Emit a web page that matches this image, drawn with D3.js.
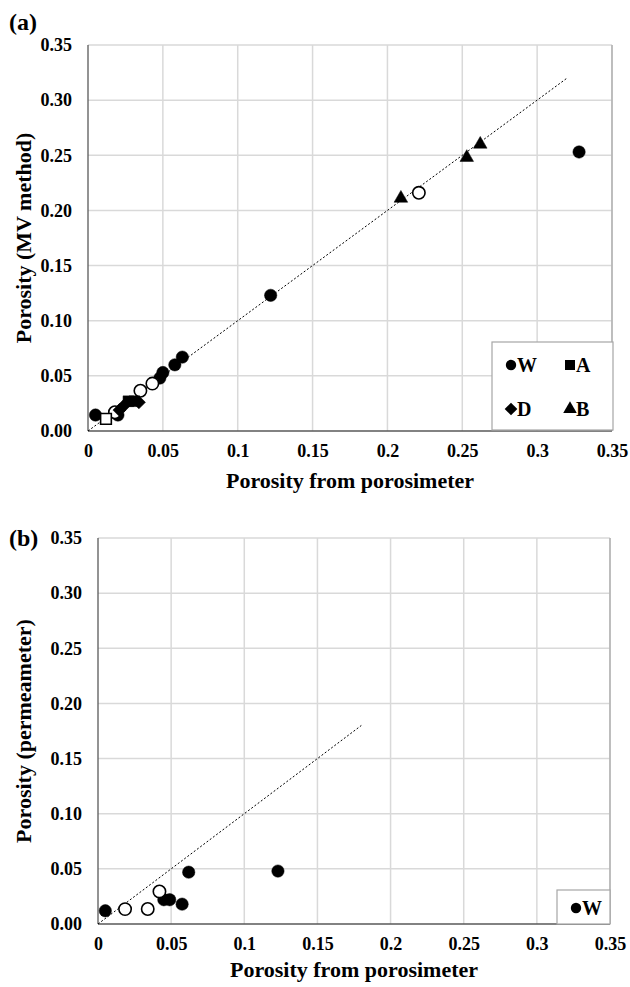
<!DOCTYPE html>
<html>
<head>
<meta charset="utf-8">
<script src="https://cdn.jsdelivr.net/npm/d3@7"></script>
<style>
  body { margin: 0; background: #fff; }
  text { font-family: "Liberation Serif", "Times New Roman", serif; font-weight: bold; fill: #000; }
</style>
</head>
<body>
<div id="chart"></div>
<script>
// ---- data, panel (a): porosimeter vs MV method ----
const aW = [[0.005, 0.0145], [0.020, 0.0145], [0.048, 0.048], [0.050, 0.053], [0.058, 0.060], [0.063, 0.067], [0.122, 0.123], [0.328, 0.253]];
const aWopen = [[0.018, 0.017], [0.035, 0.0365], [0.043, 0.043], [0.221, 0.216]];
const aA = [[0.027, 0.027], [0.031, 0.027]];
const aAopen = [[0.012, 0.011]];
const aD = [[0.021, 0.019], [0.024, 0.023], [0.034, 0.026]];
const aB = [[0.209, 0.211], [0.253, 0.248], [0.262, 0.260]];

// ---- data, panel (b): porosimeter vs permeameter ----
const bW = [[0.005, 0.012], [0.045, 0.022], [0.049, 0.022], [0.0575, 0.018], [0.062, 0.047], [0.123, 0.048]];
const bWopen = [[0.0185, 0.0135], [0.034, 0.0136], [0.042, 0.0295]];

const ticks = [0, 0.05, 0.1, 0.15, 0.2, 0.25, 0.3, 0.35];
const legendA = ["W", "A", "D", "B"];
const legendB = ["W"];

const svg = d3.select("#chart").append("svg")
    .attr("width", 630)
    .attr("height", 987);

const shapes = {
    W: d3.symbol().type(d3.symbolCircle).size(120)(),
    A: d3.symbol().type(d3.symbolSquare).size(115)(),
    D: d3.symbol().type(d3.symbolSquare).size(85)(),
    B: d3.symbol().type(d3.symbolTriangle).size(80)()
};
const legendShapes = {
    W: d3.symbol().type(d3.symbolCircle).size(85)(),
    A: d3.symbol().type(d3.symbolSquare).size(100)(),
    D: d3.symbol().type(d3.symbolSquare).size(80)(),
    B: d3.symbol().type(d3.symbolTriangle).size(80)()
};
const rot = {W: 0, A: 0, D: 45, B: 0};

function drawPanel(p) {
    const x = d3.scaleLinear().domain([0, 0.35]).range([p.left, p.right]);
    const y = d3.scaleLinear().domain([0, 0.35]).range([p.bottom, p.top]);
    const g = svg.append("g");

    // gridlines
    g.selectAll(".vg").data(ticks.slice(1)).enter().append("line")
        .attr("x1", d => x(d)).attr("x2", d => x(d))
        .attr("y1", p.top).attr("y2", p.bottom)
        .attr("stroke", "#d9d9d9").attr("stroke-width", 1.5);
    g.selectAll(".hg").data(ticks.slice(1)).enter().append("line")
        .attr("x1", p.left).attr("x2", p.right)
        .attr("y1", d => y(d)).attr("y2", d => y(d))
        .attr("stroke", "#d9d9d9").attr("stroke-width", 1.5);

    // right side of frame is a bit darker
    g.append("line").attr("x1", x(0.35)).attr("x2", x(0.35)).attr("y1", p.top).attr("y2", p.bottom)
        .attr("stroke", "#a6a6a6").attr("stroke-width", 1.2);

    // axes
    const xAxis = d3.axisBottom(x).tickValues(ticks).tickSize(0).tickPadding(13)
        .tickFormat(d => d === 0 ? "0" : String(+d.toFixed(2)));
    const yAxis = d3.axisLeft(y).tickValues(ticks).tickSize(0).tickPadding(16)
        .tickFormat(d3.format(".2f"));
    g.append("g").attr("transform", `translate(0,${p.bottom})`).call(xAxis)
        .call(a => a.select(".domain").remove())
        .selectAll("text").attr("font-size", 18).attr("font-family", null);
    g.append("g").attr("transform", `translate(${p.left},0)`).call(yAxis)
        .call(a => a.select(".domain").remove())
        .selectAll("text").attr("font-size", 18).attr("font-family", null);

    g.append("line").attr("x1", p.left).attr("x2", p.right).attr("y1", p.bottom).attr("y2", p.bottom)
        .attr("stroke", "#595959").attr("stroke-width", 1.3);
    g.append("line").attr("x1", p.left).attr("x2", p.left).attr("y1", p.top).attr("y2", p.bottom)
        .attr("stroke", "#595959").attr("stroke-width", 1.3);

    // 1:1 line
    g.append("path")
        .attr("d", d3.line()([[x(0), y(0)], [x(p.lineEnd), y(p.lineEnd)]]))
        .attr("stroke", "#000").attr("stroke-width", 1).attr("stroke-dasharray", "2,2").attr("fill", "none");

    // points
    p.series.forEach(s => {
        g.selectAll(null).data(s.data).enter().append("path")
            .attr("d", shapes[s.key])
            .attr("transform", d => `translate(${x(d[0])},${y(d[1])}) rotate(${rot[s.key]})`)
            .attr("fill", s.open ? "#fff" : "#000")
            .attr("stroke", "#000")
            .attr("stroke-width", s.open ? 1.6 : 0.5);
    });

    // legend
    const lg = g.append("g");
    lg.append("rect")
        .attr("x", p.legend.x).attr("y", p.legend.y)
        .attr("width", p.legend.w).attr("height", p.legend.h)
        .attr("fill", "#fff").attr("stroke", "#a6a6a6").attr("stroke-width", 1.2);
    p.legend.items.forEach((k, i) => {
        const cx = p.legend.x + 19 + (i % 2) * 59;
        const cy = p.legend.y + p.legend.dy + Math.floor(i / 2) * 44;
        lg.append("path").attr("d", legendShapes[k])
            .attr("transform", `translate(${cx},${cy}) rotate(${rot[k]})`)
            .attr("fill", "#000");
        lg.append("text").attr("x", cx + 6).attr("y", cy + 7)
            .attr("font-size", 20).text(k);
    });

    // axis titles
    g.append("text").attr("x", (p.left + p.right) / 2).attr("y", p.bottom + p.titleDy)
        .attr("text-anchor", "middle").attr("font-size", 22).text("Porosity from porosimeter");
    g.append("text")
        .attr("transform", `translate(${p.ylabX},${(p.top + p.bottom) / 2}) rotate(-90)`)
        .attr("text-anchor", "middle").attr("font-size", 22).text(p.ylab);
    g.append("text").attr("x", p.tagX).attr("y", p.tagY).attr("font-size", 24).text(p.tag);
}

drawPanel({
    left: 88, right: 612, top: 45, bottom: 431, lineEnd: 0.32, titleDy: 57,
    ylab: "Porosity (MV method)", ylabX: 31, tag: "(a)", tagX: 9, tagY: 30,
    series: [
        {key: "W", data: aW}, {key: "W", data: aWopen, open: true},
        {key: "D", data: aD},
        {key: "A", data: aA}, {key: "A", data: aAopen, open: true},
        {key: "B", data: aB}
    ],
    legend: {x: 492, y: 342, w: 121, h: 88, dy: 23, items: legendA}
});

drawPanel({
    left: 98, right: 610, top: 538, bottom: 924, lineEnd: 0.18, titleDy: 53,
    ylab: "Porosity (permeameter)", ylabX: 31, tag: "(b)", tagX: 9, tagY: 546,
    series: [
        {key: "W", data: bW}, {key: "W", data: bWopen, open: true}
    ],
    legend: {x: 557, y: 890, w: 53, h: 34, dy: 18, items: legendB}
});
</script>
</body>
</html>
